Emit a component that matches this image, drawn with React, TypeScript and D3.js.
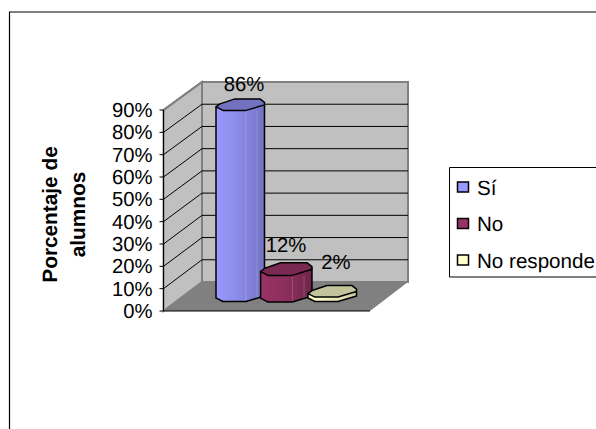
import * as d3 from "d3";

const categories = ["Sí", "No", "No responde"];
const percentages = [86, 12, 2];
const tickValues = [0, 10, 20, 30, 40, 50, 60, 70, 80, 90];
const axisTitleLines = ["Porcentaje de", "alumnos"];
const bodyStops = [
  ["#9999ff", "#8f8fef", "#8282dc", "#7272c4"],
  ["#993366", "#90305f", "#842c57", "#6e2649"],
  ["#ffffcc", "#f4f4c2", "#e4e4b6", "#ccccA2"],
];
const capColors = ["#7272c0", "#7a2952", "#c4c49c"];
const swatchColors = ["#9999ff", "#993366", "#ffffcc"];
// The middle column's facets read slightly larger than its neighbours'.
const columnStretchX = [1, 1.06, 1];
const columnStretchY = [1, 1.1, 1];

const W = 596;
const H = 429;
const FONT = "'Liberation Sans', Arial, sans-serif";

// The 3D box: front-left and back-left vertical axes share one linear scale shape.
const frontY = d3.scaleLinear().domain([0, 90]).range([311, 110]);
const backY = d3.scaleLinear().domain([0, 90]).range([282, 82]);
// Bars stand on a plane between the front and back of the floor.
const barY = d3.scaleLinear().domain([0, 90]).range([296, 96]);
const barX = d3.scalePoint<string>().domain(categories).range([240, 332]);
const box = { frontLeft: 163.5, backLeft: 202, backRight: 408, frontRight: 370 };

// Octagonal cross-section of each column, seen from above.
const capShape: [number, number][] = [
  [-24, 2], [-20, -1], [-5, -6], [20, -6], [24.5, -2.5], [24.5, 0], [6, 5.5], [-17, 5.5],
];
const baseShape: [number, number][] = [[24.5, 0], [6, 5.5], [-17, 5.5], [-24, 2]];
const facetOffsets = [6, 17];

const line = d3.line();

function Column({ i }: { i: number }) {
  const cat = categories[i];
  const cx = barX(cat)!;
  const top = barY(percentages[i]);
  const base = barY(0);
  const sx = columnStretchX[i];
  const sy = columnStretchY[i];
  const cap = capShape.map(([x, y]) => [cx + x * sx, top + y * sy] as [number, number]);
  const body = [
    [cx - 24 * sx, top + 2 * sy],
    ...baseShape.slice().reverse().map(([x, y]) => [cx + x * sx, base + y * sy]),
    [cx + 24.5 * sx, top],
  ] as [number, number][];
  return (
    <g>
      <path d={line(body)! + "Z"} fill={`url(#body${i})`} stroke="#000" strokeWidth={1.5} strokeLinejoin="round" />
      {/* faint seams between the body's facets */}
      {percentages[i] > 5 &&
        facetOffsets.map((o) => (
          <line
            key={o}
            x1={cx + o * sx}
            x2={cx + o * sx}
            y1={top + 6 * sy}
            y2={base + (o === 6 ? 4.5 : 2) * sy}
            stroke="#fff"
            strokeOpacity={0.18}
          />
        ))}
      <path d={line(cap)! + "Z"} fill={capColors[i]} stroke="#000" strokeWidth={1.5} strokeLinejoin="round" />
    </g>
  );
}

export default function App() {
  return (
    <svg
      width={W}
      height={H}
      style={{ position: "absolute", left: 0, top: 0, background: "#fff" }}
      fontFamily={FONT}
      textRendering="geometricPrecision"
    >
      <defs>
        {bodyStops.map((stops, i) => (
          <linearGradient key={i} id={`body${i}`} x1="0" x2="1" y1="0" y2="0">
            {stops.map((c, j) => (
              <stop key={j} offset={j / (stops.length - 1)} stopColor={c} />
            ))}
          </linearGradient>
        ))}
      </defs>

      {/* outer frame, open on the right and bottom */}
      <path d={`M9.5,${H}V12H${W}`} fill="none" stroke="#000" strokeWidth={1.2} />

      {/* walls and floor */}
      <path
        d={line([[box.backLeft, backY(0)], [box.backLeft, backY(90)], [box.backRight, backY(90)], [box.backRight, backY(0)]])! + "Z"}
        fill="#c0c0c0" stroke="#808080" strokeWidth={2}
      />
      <path
        d={line([[box.frontLeft, frontY(0)], [box.frontLeft, frontY(90)], [box.backLeft, backY(90)], [box.backLeft, backY(0)]])! + "Z"}
        fill="#c0c0c0" stroke="#808080" strokeWidth={2}
      />
      <path
        d={line([[box.frontLeft, frontY(0)], [box.backLeft, backY(0)], [box.backRight, backY(0)], [box.frontRight, frontY(0)]])! + "Z"}
        fill="#808080"
      />

      {/* gridlines along both walls */}
      {tickValues.slice(1, -1).map((t) => (
        <path
          key={t}
          d={line([[box.frontLeft, frontY(t)], [box.backLeft, backY(t)], [box.backRight, backY(t)]])!}
          fill="none" stroke="#000" strokeWidth={1}
        />
      ))}
      <path d={line([[box.frontLeft, frontY(90)], [box.backLeft, backY(90)]])!} fill="none" stroke="#808080" strokeWidth={2} />

      {/* value axis */}
      <path d={`M${box.frontLeft},${frontY(90)}V${frontY(0)}H${box.frontRight}`} fill="none" stroke="#000" strokeWidth={1} />
      {tickValues.map((t) => (
        <g key={t}>
          <line x1={box.frontLeft - 4} x2={box.frontLeft} y1={frontY(t)} y2={frontY(t)} stroke="#000" />
          <text x={box.frontLeft - 11} y={frontY(t) + 7} textAnchor="end" fontSize={20.3}>{t}%</text>
        </g>
      ))}

      {/* axis title */}
      <g transform="translate(57,214.5) rotate(-90)" fontSize={20.8} fontWeight="bold" textAnchor="middle">
        {axisTitleLines.map((l, i) => (
          <text key={l} x={0} y={i * 28}>{l}</text>
        ))}
      </g>

      {categories.map((_, i) => <Column key={i} i={i} />)}

      {/* value labels above each column */}
      {categories.map((cat, i) => (
        <text
          key={cat}
          x={barX(cat)! + [4, 0, 4][i]}
          y={barY(percentages[i]) + [-14, -17, -23][i]}
          textAnchor="middle"
          fontSize={20.3}
        >
          {percentages[i]}%
        </text>
      ))}

      {/* legend, running off the right edge */}
      <path d={`M${W},167.5H449.5V277H${W}`} fill="none" stroke="#000" strokeWidth={1} />
      {categories.map((cat, i) => (
        <g key={cat}>
          <rect x={457.5} y={182 + i * 36.5} width={11} height={10} fill={swatchColors[i]} stroke="#000" strokeWidth={1.5} />
          <text x={477} y={194.5 + i * 36.5} fontSize={20.6}>{cat}</text>
        </g>
      ))}
    </svg>
  );
}
